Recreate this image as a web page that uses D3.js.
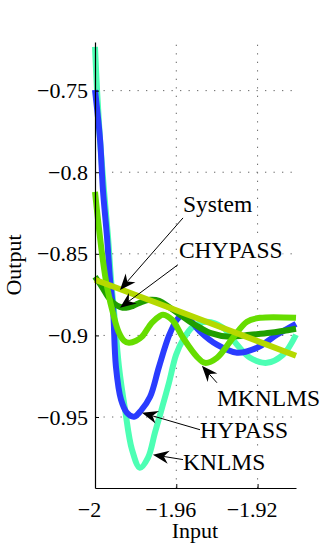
<html>
<head>
<script src="https://d3js.org/d3.v7.min.js"></script>
<style>
body { margin: 0; background: #fff; }
svg { display: block; }
svg text { font-family: "Liberation Serif", "Times New Roman", serif; }
</style>
</head>
<body>
<div id="plot"></div>
<script>

/*** Data ***/
var xTicks = [-2, -1.96, -1.92];
var xTickLabels = ["\u22122", "\u22121.96", "\u22121.92"];
var yTicks = [-0.95, -0.9, -0.85, -0.8, -0.75];
var yTickLabels = ["\u22120.95", "\u22120.9", "\u22120.85", "\u22120.8", "\u22120.75"];

var knlms = [[-2.0000,-0.7232],[-1.9990,-0.7496],[-1.9975,-0.7802],[-1.9956,-0.8108],[-1.9936,-0.8396],
  [-1.9921,-0.8659],[-1.9907,-0.8843],[-1.9882,-0.9192],[-1.9852,-0.9455],[-1.9818,-0.9700],
  [-1.9779,-0.9811],[-1.9739,-0.9749],[-1.9705,-0.9596],[-1.9670,-0.9443],[-1.9636,-0.9290],
  [-1.9601,-0.9119],[-1.9567,-0.9027],[-1.9518,-0.8947],[-1.9449,-0.8916],[-1.9370,-0.8953],
  [-1.9301,-0.9057],[-1.9237,-0.9137],[-1.9154,-0.9168],[-1.9075,-0.9119],[-1.9011,-0.8996]];

var hypass = [[-2.0000,-0.7496],[-1.9975,-0.7802],[-1.9961,-0.8108],[-1.9941,-0.8396],[-1.9926,-0.8659],
  [-1.9911,-0.8843],[-1.9897,-0.9192],[-1.9872,-0.9394],[-1.9843,-0.9474],[-1.9808,-0.9498],
  [-1.9774,-0.9461],[-1.9729,-0.9376],[-1.9685,-0.9192],[-1.9636,-0.9002],[-1.9597,-0.8904],
  [-1.9567,-0.8873],[-1.9533,-0.8904],[-1.9483,-0.8977],[-1.9400,-0.9057],[-1.9301,-0.9106],
  [-1.9203,-0.9076],[-1.9105,-0.8996],[-1.9011,-0.8929]];

var mknlms = [[-2.0000,-0.8120],[-1.9985,-0.8294],[-1.9966,-0.8494],[-1.9941,-0.8702],[-1.9907,-0.8886],
  [-1.9882,-0.8984],[-1.9857,-0.9033],[-1.9833,-0.9045],[-1.9798,-0.9033],[-1.9769,-0.9008],
  [-1.9720,-0.8922],[-1.9680,-0.8880],[-1.9665,-0.8873],[-1.9621,-0.8904],[-1.9567,-0.9014],
  [-1.9498,-0.9131],[-1.9459,-0.9168],[-1.9400,-0.9137],[-1.9321,-0.9014],[-1.9252,-0.8916],
  [-1.9188,-0.8892],[-1.9011,-0.8892]];

var chypass = [[-2.0000,-0.8641],[-1.9966,-0.8702],[-1.9936,-0.8763],[-1.9911,-0.8800],[-1.9877,-0.8825],
  [-1.9847,-0.8831],[-1.9813,-0.8819],[-1.9769,-0.8794],[-1.9729,-0.8782],[-1.9685,-0.8788],
  [-1.9631,-0.8831],[-1.9582,-0.8873],[-1.9533,-0.8916],[-1.9483,-0.8953],[-1.9434,-0.8984],
  [-1.9336,-0.9008],[-1.9237,-0.8996],[-1.9139,-0.8984],[-1.9011,-0.8959]];

var system = [[-2.0000,-0.8659],[-1.9500,-0.8893],[-1.9011,-0.9125]];

var seriesNames = ["KNLMS", "HYPASS", "CHYPASS", "MKNLMS", "System"];
var seriesData = [knlms, hypass, chypass, mknlms, system];
var seriesColors = ["#4dffb4", "#2a3cff", "#1f9e00", "#66dd00", "#b5d900"];

// label, text position, arrow tail, arrow tip (data units)
var annotations = [
  { label: "System",  tx: -1.9567, ty: -0.8243, x0: -1.9567, y0: -0.8280, x1: -1.9877, y1: -0.8721 },
  { label: "CHYPASS", tx: -1.9587, ty: -0.8525, x0: -1.9592, y0: -0.8567, x1: -1.9877, y1: -0.8831 },
  { label: "MKNLMS",  tx: -1.9400, ty: -0.9431, x0: -1.9400, y0: -0.9290, x1: -1.9474, y1: -0.9186 },
  { label: "HYPASS",  tx: -1.9483, ty: -0.9627, x0: -1.9483, y0: -0.9578, x1: -1.9769, y1: -0.9474 },
  { label: "KNLMS",   tx: -1.9567, ty: -0.9823, x0: -1.9567, y0: -0.9761, x1: -1.9715, y1: -0.9731 }
];

/*** Layout ***/
var width = 327, height = 551;
var plotLeft = 95, plotRight = 296, plotTop = 42, plotBottom = 488;
var fontSize = 22, labelSize = 23.5;

var svg = d3.select("#plot").append("svg")
  .attr("width", width).attr("height", height);

var xScale = d3.scaleLinear().domain([-2, -1.9011]).range([plotLeft, plotRight]);
var yScale = d3.scaleLinear().domain([-0.9935, -0.7202]).range([plotBottom, plotTop]);

// dotted grid
svg.append("g").selectAll("line").data(xTicks.slice(1)).enter()
  .append("line")
  .attr("x1", function (d) { return xScale(d); }).attr("x2", function (d) { return xScale(d); })
  .attr("y1", plotBottom).attr("y2", plotTop)
  .style("stroke", "#666").style("stroke-width", 1).style("stroke-dasharray", "1.3,7.2");

svg.append("g").selectAll("line").data(yTicks).enter()
  .append("line")
  .attr("x1", plotLeft).attr("x2", plotRight)
  .attr("y1", function (d) { return yScale(d); }).attr("y2", function (d) { return yScale(d); })
  .style("stroke", "#666").style("stroke-width", 1).style("stroke-dasharray", "1.3,7.2");

// curves
var line = d3.line()
  .x(function (d) { return xScale(d[0]); })
  .y(function (d) { return yScale(d[1]); })
  .curve(d3.curveCatmullRom.alpha(0.5));

svg.append("g").selectAll("path").data(seriesData).enter()
  .append("path")
  .attr("d", line)
  .style("fill", "none")
  .style("stroke", function (d, i) { return seriesColors[i]; })
  .style("stroke-width", 6)
  .style("stroke-linejoin", "round");

// axes
var xAxis = d3.axisBottom(xScale).tickValues(xTicks)
  .tickFormat(function (d, i) { return xTickLabels[i]; })
  .tickSizeInner(-4).tickSizeOuter(0).tickPadding(13);
var gx = svg.append("g").attr("transform", "translate(0," + plotBottom + ")").call(xAxis);

var yAxis = d3.axisLeft(yScale).tickValues(yTicks)
  .tickFormat(function (d, i) { return yTickLabels[i]; })
  .tickSizeInner(-4).tickSizeOuter(0).tickPadding(7);
var gy = svg.append("g").attr("transform", "translate(" + plotLeft + ",0)").call(yAxis);

[gx, gy].forEach(function (g) {
  g.attr("font-family", null).attr("font-size", null);
  g.selectAll("text").style("font-size", fontSize + "px").style("fill", "#000");
  g.selectAll("line").style("stroke", "#000");
  g.select(".domain").style("stroke", "#000").style("stroke-width", 1.2);
});
gx.selectAll("text").attr("dx", -6);

svg.append("text").attr("x", 195).attr("y", 538)
  .attr("text-anchor", "middle").style("font-size", fontSize + "px").text("Input");

svg.append("text").attr("transform", "translate(21,265) rotate(-90)")
  .attr("text-anchor", "middle").style("font-size", fontSize + "px").text("Output");

// annotations: arrow line, arrowhead, label on white
var ann = svg.append("g");
annotations.forEach(function (a) {
  var x0 = xScale(a.x0), y0 = yScale(a.y0), x1 = xScale(a.x1), y1 = yScale(a.y1);
  var ang = Math.atan2(y1 - y0, x1 - x0);
  var len = 16, half = 6.5, notch = 11;
  var ux = Math.cos(ang), uy = Math.sin(ang);
  var bx = x1 - ux * len, by = y1 - uy * len;
  var nx = x1 - ux * notch, ny = y1 - uy * notch;
  var head = [[x1, y1], [bx - uy * half, by + ux * half], [nx, ny], [bx + uy * half, by - ux * half]];

  ann.append("line")
    .attr("x1", x0).attr("y1", y0).attr("x2", nx).attr("y2", ny)
    .style("stroke", "#000").style("stroke-width", 1);
  ann.append("polygon")
    .attr("points", head.map(function (p) { return p.join(","); }).join(" "))
    .style("fill", "#000");

  var bg = ann.append("rect").style("fill", "#fff");
  var t = ann.append("text")
    .attr("x", xScale(a.tx)).attr("y", yScale(a.ty))
    .style("font-size", labelSize + "px").text(a.label);
  var bb = t.node().getBBox();
  bg.attr("x", bb.x).attr("y", bb.y + 3).attr("width", bb.width).attr("height", bb.height - 5);
});

</script>
</body>
</html>
